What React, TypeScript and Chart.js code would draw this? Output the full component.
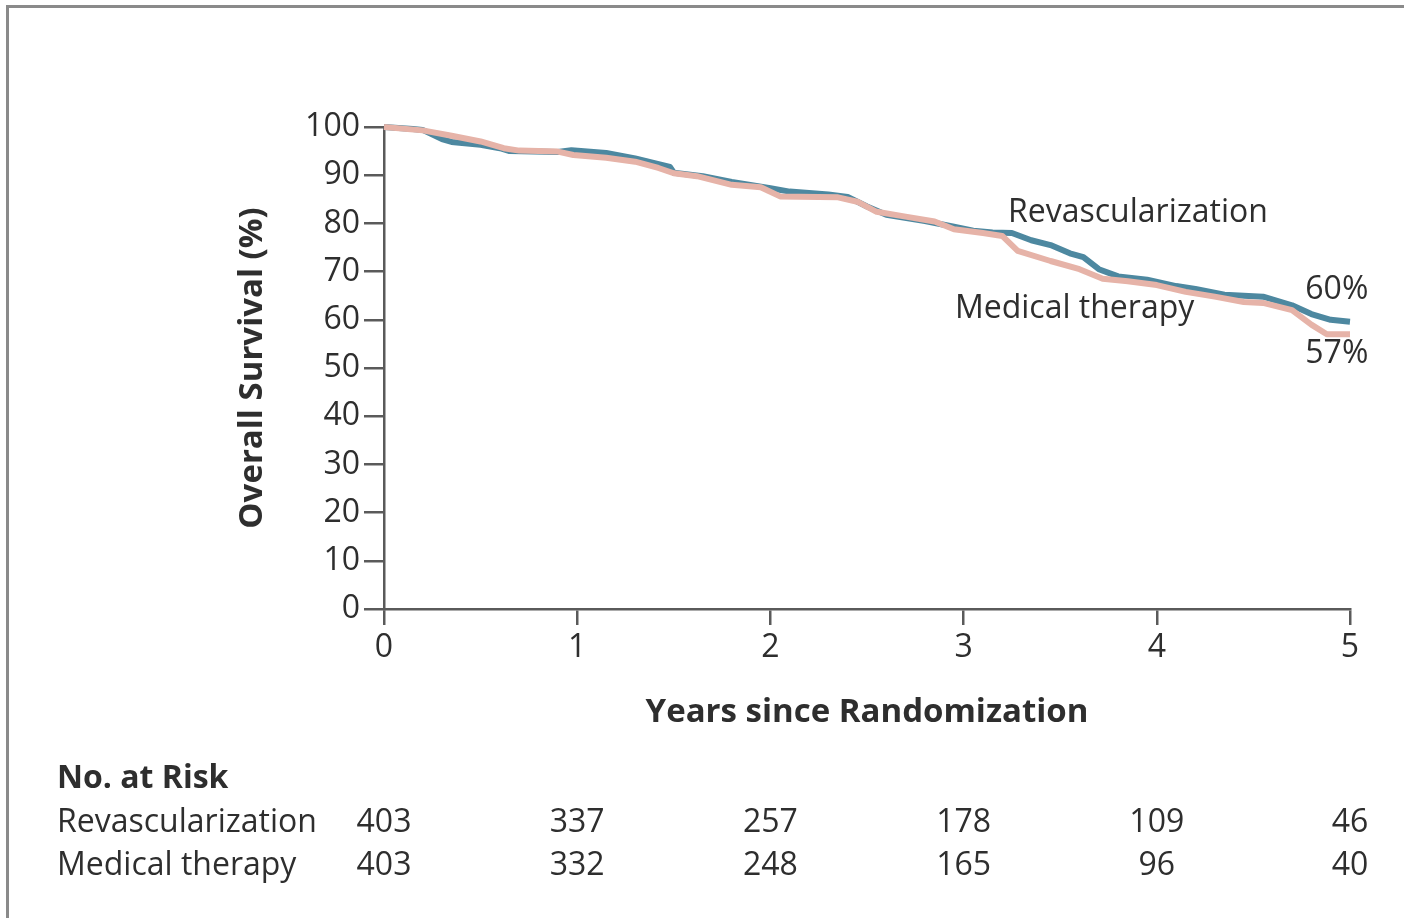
import React, { useEffect, useRef } from "react";
import { Chart, registerables } from "chart.js";

Chart.register(...registerables);

const revYears = [0, 0.15, 0.2, 0.3, 0.35, 0.5, 0.6, 0.65, 0.9, 0.97, 1.15, 1.3, 1.4, 1.48, 1.5, 1.65, 1.8, 2.0, 2.1, 2.3, 2.4, 2.5, 2.6, 2.8, 2.95, 3.05, 3.15, 3.25, 3.35, 3.45, 3.55, 3.62, 3.7, 3.8, 3.95, 4.1, 4.2, 4.35, 4.55, 4.7, 4.8, 4.9, 5.0];
const revSurvival = [100, 99.6, 99.4, 97.5, 96.9, 96.3, 95.6, 95, 94.8, 95.2, 94.6, 93.5, 92.5, 91.7, 90.5, 89.8, 88.6, 87.3, 86.6, 86, 85.5, 83.5, 81.8, 80.5, 79.3, 78.5, 78.1, 78, 76.5, 75.5, 73.8, 73, 70.5, 69, 68.3, 67, 66.4, 65.2, 64.8, 63, 61.2, 60, 59.6];

const medYears = [0, 0.2, 0.35, 0.5, 0.62, 0.7, 0.9, 0.98, 1.15, 1.3, 1.42, 1.5, 1.62, 1.8, 1.95, 2.05, 2.35, 2.45, 2.55, 2.7, 2.85, 2.95, 3.1, 3.2, 3.28, 3.45, 3.6, 3.72, 3.85, 4.0, 4.15, 4.3, 4.45, 4.55, 4.7, 4.8, 4.88, 5.0];
const medSurvival = [100, 99.3, 98.2, 97, 95.6, 95.1, 94.9, 94.2, 93.6, 92.8, 91.5, 90.4, 89.8, 88, 87.5, 85.6, 85.4, 84.5, 82.4, 81.4, 80.4, 78.8, 78, 77.4, 74.3, 72.2, 70.5, 68.5, 68, 67.2, 65.8, 64.8, 63.7, 63.5, 62, 59, 57, 57];

const seriesNames = ["Revascularization", "Medical therapy"];
const finalLabels = ["60%", "57%"];
const riskYears = [0, 1, 2, 3, 4, 5];
const riskRevasc = [403, 337, 257, 178, 109, 46];
const riskMedical = [403, 332, 248, 165, 96, 40];

const FONT = "'Open Sans', 'Noto Sans', sans-serif";
const TEXT = "#2e2e2e";
const AXIS = "#5a5a5a";
const BLUE = "#4d88a0";
const PINK = "#e6b3a8";

const overlayPlugin = {
  id: "overlay",
  afterDraw(chart: any) {
    const { ctx } = chart;
    const xs = chart.scales.x;
    const ys = chart.scales.y;
    ctx.save();
    // frame
    ctx.strokeStyle = "#8a8a8a";
    ctx.lineWidth = 3;
    ctx.beginPath();
    ctx.moveTo(7.5, 918);
    ctx.lineTo(7.5, 6.5);
    ctx.lineTo(1404, 6.5);
    ctx.stroke();

    ctx.fillStyle = TEXT;
    ctx.textBaseline = "middle";
    ctx.font = `32px ${FONT}`;
    // curve labels
    ctx.textAlign = "left";
    ctx.fillText(seriesNames[0], xs.getPixelForValue(3.23), ys.getPixelForValue(82.2));
    ctx.fillText(seriesNames[1], xs.getPixelForValue(2.955), ys.getPixelForValue(62.2));
    ctx.textAlign = "right";
    ctx.fillText(finalLabels[0], xs.getPixelForValue(5.095), ys.getPixelForValue(66.2));
    ctx.fillText(finalLabels[1], xs.getPixelForValue(5.095), ys.getPixelForValue(52.9));

    // number at risk table
    ctx.textAlign = "left";
    ctx.font = `bold 32px ${FONT}`;
    ctx.fillText("No. at Risk", 57, 779);
    ctx.font = `32px ${FONT}`;
    ctx.fillText(seriesNames[0], 57, 823);
    ctx.fillText(seriesNames[1], 57, 866);
    ctx.textAlign = "center";
    riskYears.forEach((yr, i) => {
      const px = xs.getPixelForValue(yr);
      ctx.fillText(String(riskRevasc[i]), px, 823);
      ctx.fillText(String(riskMedical[i]), px, 866);
    });
    ctx.restore();
  },
};

export default function App() {
  const canvasRef = useRef<HTMLCanvasElement | null>(null);

  useEffect(() => {
    if (!canvasRef.current) return;
    const chart = new Chart(canvasRef.current, {
      type: "line",
      data: {
        datasets: [
          {
            label: seriesNames[1],
            data: medYears.map((x, i) => ({ x, y: medSurvival[i] })),
            borderColor: PINK,
            borderWidth: 6,
            pointRadius: 0,
            tension: 0,
            borderJoinStyle: "round",
            borderCapStyle: "butt",
            clip: false,
            order: 0,
          },
          {
            label: seriesNames[0],
            data: revYears.map((x, i) => ({ x, y: revSurvival[i] })),
            borderColor: BLUE,
            borderWidth: 6,
            pointRadius: 0,
            tension: 0,
            borderJoinStyle: "round",
            borderCapStyle: "butt",
            clip: false,
            order: 1,
          },
        ],
      },
      options: {
        animation: false,
        responsive: true,
        maintainAspectRatio: false,
        layout: { padding: { left: 233, top: 127, right: 54, bottom: 179 } },
        plugins: { legend: { display: false }, tooltip: { enabled: false } },
        scales: {
          x: {
            type: "linear",
            min: 0,
            max: 5,
            ticks: { stepSize: 1, color: TEXT, font: { family: FONT, size: 32 }, padding: 4 },
            grid: { drawOnChartArea: false, drawTicks: true, tickLength: 16, color: AXIS, lineWidth: 2.5 },
            border: { display: true, color: AXIS, width: 2.5 },
            title: {
              display: true,
              text: "Years since Randomization",
              color: TEXT,
              font: { family: FONT, size: 33, weight: "bold" },
              padding: { top: 0, bottom: 7 },
            },
            afterFit(scale: any) {
              scale.height = 130;
            },
          },
          y: {
            type: "linear",
            min: 0,
            max: 100,
            ticks: { stepSize: 10, color: TEXT, font: { family: FONT, size: 32 }, padding: 4 },
            grid: { drawOnChartArea: false, drawTicks: true, tickLength: 20, color: AXIS, lineWidth: 2.5 },
            border: { display: true, color: AXIS, width: 2.5 },
            title: {
              display: true,
              text: "Overall Survival (%)",
              color: TEXT,
              font: { family: FONT, size: 33, weight: "bold" },
              padding: { top: 0, bottom: 0 },
            },
            afterFit(scale: any) {
              scale.width = 151;
            },
          },
        },
      },
      plugins: [overlayPlugin],
    });
    return () => chart.destroy();
  }, []);

  return (
    <div style={{ position: "absolute", left: 0, top: 0, width: 1404, height: 918, background: "#fff" }}>
      <canvas ref={canvasRef} />
    </div>
  );
}
